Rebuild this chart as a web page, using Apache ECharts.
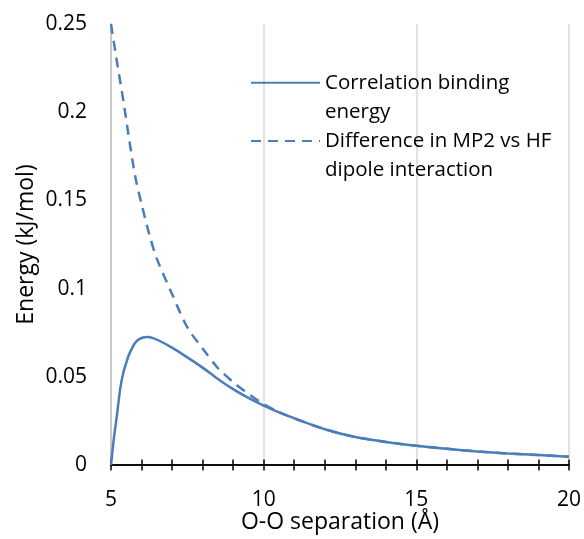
<!DOCTYPE html>
<html><head><meta charset="utf-8">
<script src="https://cdn.jsdelivr.net/npm/echarts@6/dist/echarts.min.js"></script>
<style>html,body{margin:0;padding:0;background:#fff}#c{width:584px;height:539px}</style>
</head><body><div id="c"></div>
<script>
const seriesNames = ['Correlation binding energy', 'Difference in MP2 vs HF dipole interaction'];
const corrX = [5, 5.05, 5.1, 5.2, 5.3, 5.4, 5.5, 5.6, 5.8, 6.0, 6.2, 6.4, 6.6, 7.0, 7.5, 8.0, 8.5, 9.0, 9.5, 10, 10.5, 11, 12, 13, 14, 15, 16, 17, 18, 19, 20];
const corrY = [0, 0.008, 0.016, 0.029, 0.043, 0.052, 0.058, 0.063, 0.0695, 0.0720, 0.0726, 0.0718, 0.0703, 0.0665, 0.0610, 0.0552, 0.0488, 0.0430, 0.0380, 0.0336, 0.0298, 0.0265, 0.0203, 0.0159, 0.0131, 0.0109, 0.0092, 0.0077, 0.0065, 0.0056, 0.0047];
const dipX = [5, 5.2, 5.4, 5.6, 5.8, 6.0, 6.25, 6.5, 7.0, 7.5, 8.0, 8.5, 9.0, 9.5, 10, 10.5, 11, 12, 13, 14, 15, 16, 17, 18, 19, 20];
const dipY = [0.250, 0.228, 0.207, 0.184, 0.163, 0.148, 0.131, 0.117, 0.097, 0.078, 0.066, 0.055, 0.047, 0.0403, 0.0346, 0.030, 0.0265, 0.0203, 0.0159, 0.0131, 0.0109, 0.0092, 0.0077, 0.0065, 0.0056, 0.0047];

const FONT = 'Open Sans';
const COLOR = '#4A7EBB';
const pair = (xs, ys) => xs.map((x, i) => [x, ys[i]]);
const wrap = {
  'Correlation binding energy': ' \nCorrelation binding\nenergy',
  'Difference in MP2 vs HF dipole interaction': ' \nDifference in MP2 vs HF\ndipole interaction'
};
function legendCfg(name, center) {
  return {
    data: [name], left: 250, top: center - 43.5, padding: 0,
    itemWidth: 69, itemHeight: 14, itemGap: 0,
    selectedMode: false,
    itemStyle: { color: 'rgba(0,0,0,0)', borderWidth: 0, opacity: 0 },
    formatter: n => wrap[n],
    textStyle: { fontFamily: FONT, fontSize: 20.5, color: '#000', lineHeight: 29 }
  };
}
const chart = echarts.init(document.getElementById('c'), null, { renderer: 'canvas' });
const xCommon = {
  type: 'value', min: 5, max: 20, interval: 5, position: 'bottom',
  axisLine: { show: true, onZero: false, lineStyle: { color: '#000', width: 1.5 } },
  minorTick: { show: true, splitNumber: 5, length: 5.5, lineStyle: { color: '#000', width: 1.5 } }
};
chart.setOption({
  animation: false,
  grid: { left: 111, right: 14, top: 24, bottom: 71, containLabel: false },
  legend: [legendCfg(seriesNames[0], 82.7), legendCfg(seriesNames[1], 141)],
  xAxis: [
    Object.assign({}, xCommon, {
      name: 'O-O separation (Å)', nameLocation: 'middle', nameGap: 46, nameMoveOverlap: false,
      nameTextStyle: { fontFamily: FONT, fontSize: 23, color: '#000' },
      axisTick: { show: true, inside: false, length: 5.5, lineStyle: { color: '#000', width: 1.5 } },
      axisLabel: { fontFamily: FONT, fontSize: 21, color: '#000', margin: 25 },
      splitLine: { show: true, lineStyle: { color: '#D9D9D9', width: 1.5 } }
    }),
    Object.assign({}, xCommon, {
      axisTick: { show: true, inside: true, length: 5.5, lineStyle: { color: '#000', width: 1.5 } },
      minorTick: { show: true, splitNumber: 5, length: 5.5, lineStyle: { color: '#000', width: 1.5 } },
      axisLabel: { show: false },
      splitLine: { show: false }
    })
  ],
  yAxis: {
    type: 'value', min: 0, max: 0.25, interval: 0.05,
    name: 'Energy (kJ/mol)', nameLocation: 'middle', nameGap: 73, nameMoveOverlap: false,
    nameTextStyle: { fontFamily: FONT, fontSize: 23, color: '#000' },
    axisLine: { show: true, lineStyle: { color: '#BFBFBF', width: 1.5 } },
    axisTick: { show: false },
    axisLabel: { fontFamily: FONT, fontSize: 21, color: '#000', margin: 24, padding: [0, 0, 6, 0] },
    splitLine: { show: false }
  },
  series: [
    {
      name: seriesNames[0], type: 'line', xAxisIndex: 0, data: pair(corrX, corrY),
      showSymbol: false, symbol: 'none', smooth: 0.3,
      lineStyle: { color: COLOR, width: 2.5 }, itemStyle: { color: COLOR }, z: 3
    },
    {
      name: seriesNames[1], type: 'line', xAxisIndex: 0, data: pair(dipX, dipY),
      showSymbol: false, symbol: 'none', smooth: 0.3,
      lineStyle: { color: COLOR, width: 2.5, type: [10, 7] }, itemStyle: { color: COLOR }, z: 2
    }
  ]
});
</script>
</body></html>
